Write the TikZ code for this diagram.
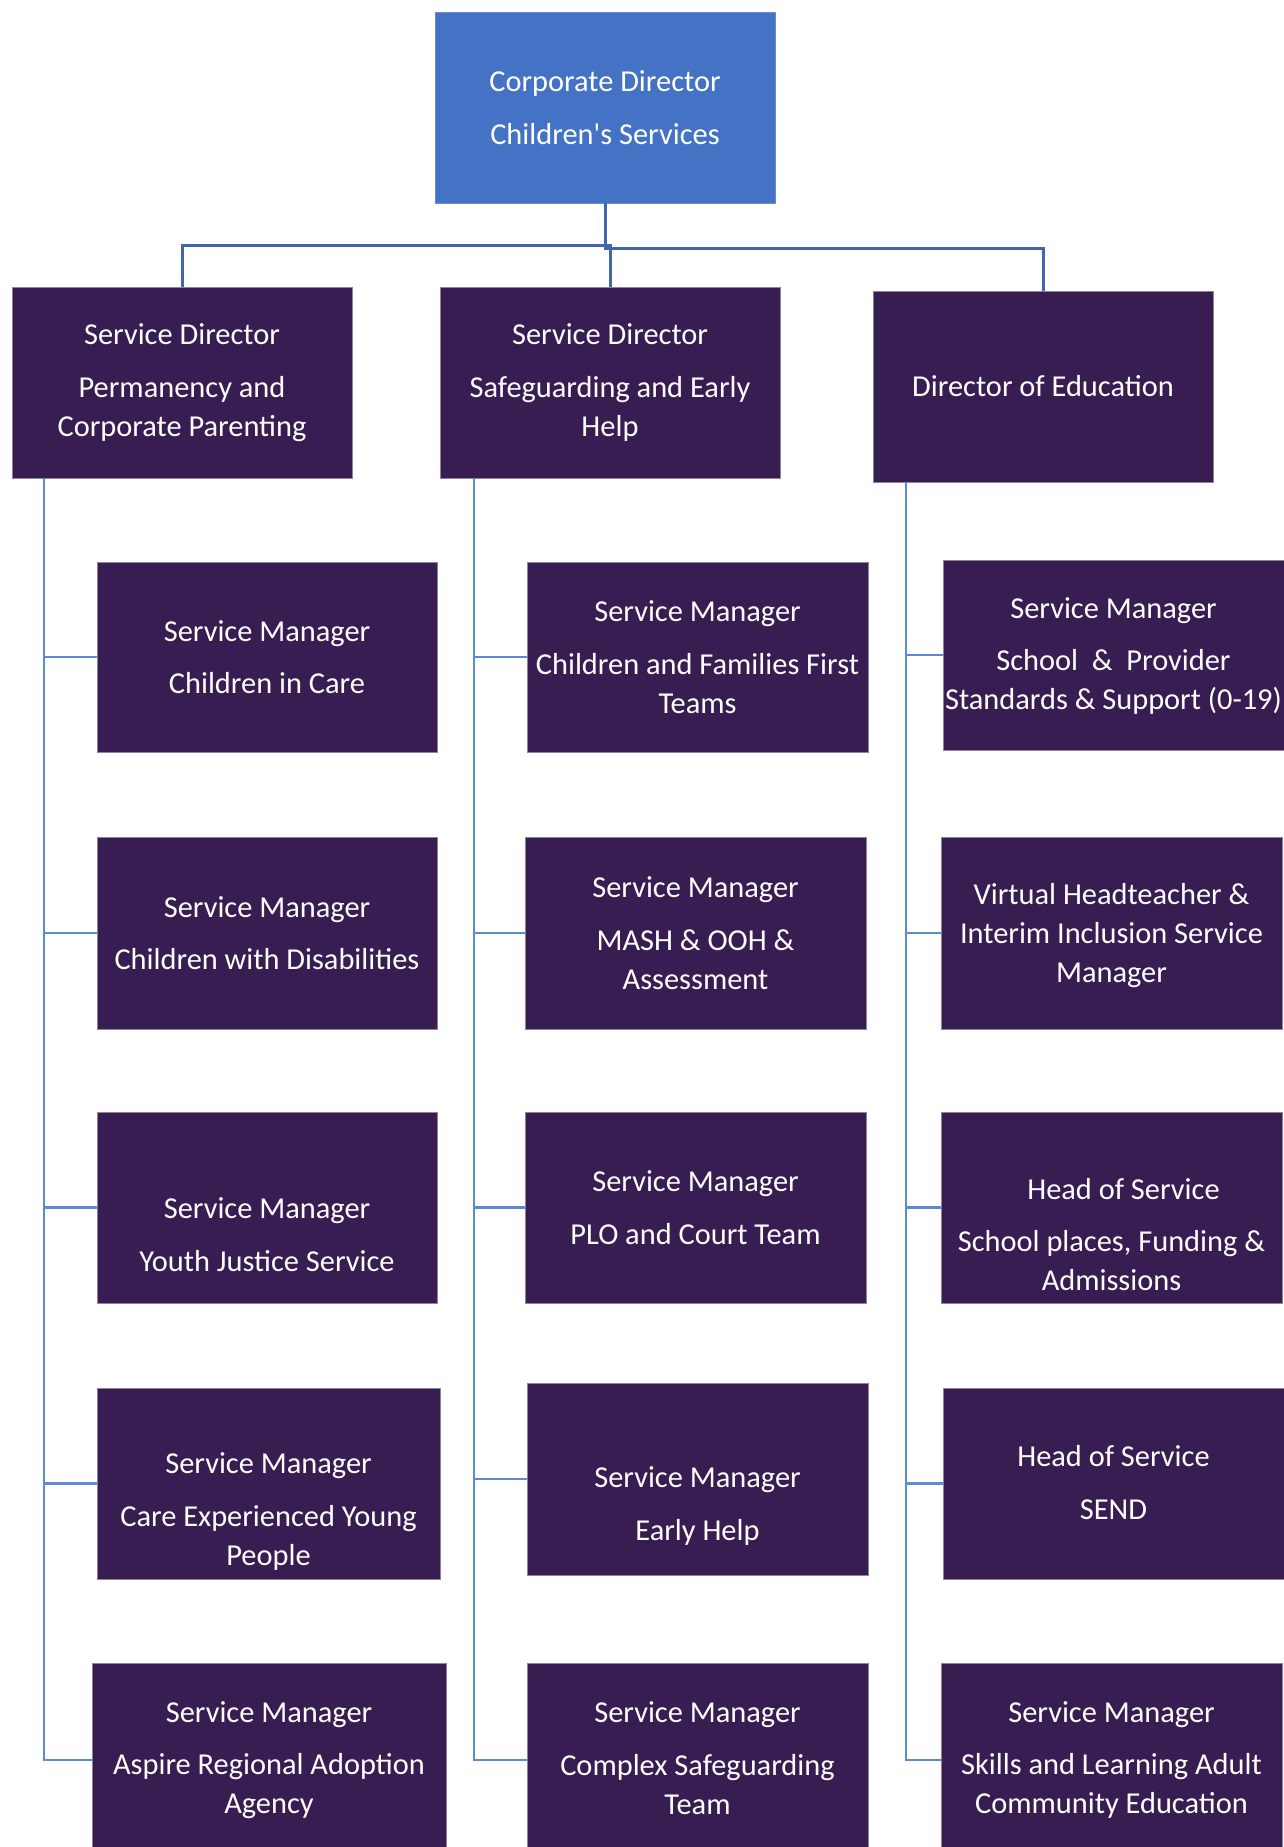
\documentclass[tikz,border=0pt]{standalone}
\usepackage{fontspec}
\setmainfont{Carlito}
\definecolor{topblue}{HTML}{4472C4}
\definecolor{deeppurple}{HTML}{371D51}
\definecolor{edgegray}{HTML}{8E84A0}
\definecolor{topline}{HTML}{4266AC}
\definecolor{subline}{HTML}{5E8AD2}
\tikzset{
  dbox/.style={fill=deeppurple, draw=edgegray, line width=0.5pt, inner sep=0pt, outer sep=0pt},
  bbox/.style={dbox, fill=topblue, draw=topblue!80!white},
  txt/.style={text=white, align=center, inner sep=0pt, font=\fontsize{15.2}{19.5}\selectfont},
  topconn/.style={draw=topline, line width=1.5pt},
  subconn/.style={draw=subline, line width=1.1pt},
}
% [style]{name}{x1}{y1}{x2}{y2}{text shift down, px}{text}
\newcommand{\orgbox}[8][dbox]{%
  \node[#1, minimum width={(#5-#3)*0.5pt}, minimum height={(#6-#4)*0.5pt}] (#2) at ({(#3+#5)/2},{(#4+#6)/2}) {};
  \node[txt] (#2t) at ([yshift={-(#7)*0.5pt}]#2.center) {#8};}
\newcommand{\gap}{\\[6.85pt]}
\begin{document}
\begin{tikzpicture}[x=0.5pt,y=-0.5pt]
\useasboundingbox (0,0) rectangle (1284,1847);
\clip (0,0) rectangle (1284,1847);
\fill[white] (0,0) rectangle (1284,1847);

% top
\orgbox[bbox]{top}{435}{12}{775}{203}{0}{Corporate Director\gap Children\textquotesingle s Services}

% level 2
\orgbox{pl}{12}{287}{352}{478}{0}{Service Director\gap Permanency and\\Corporate Parenting}
\orgbox{pm}{440}{287}{780}{478}{0}{Service Director\gap Safeguarding and Early\\Help}
\orgbox{pr}{873}{291}{1213}{482}{0}{Director of Education}

% left column
\orgbox{l1}{97}{562}{437}{752}{0}{Service Manager\gap Children in Care}
\orgbox{l2}{97}{837}{437}{1029}{0}{Service Manager\gap Children with Disabilities}
\orgbox{l3}{97}{1112}{437}{1303}{27}{Service Manager\gap Youth Justice Service}
\orgbox{l4}{97}{1388}{440}{1579}{28}{Service Manager\gap Care Experienced Young\\People}
\orgbox{l5}{92}{1663}{446}{1857}{0}{Service Manager\gap Aspire Regional Adoption\\Agency}

% middle column
\orgbox{m1}{527}{562}{868}{752}{0}{Service Manager\gap Children and Families First\\Teams}
\orgbox{m2}{525}{837}{866}{1029}{0}{Service Manager\gap MASH \& OOH \&\\Assessment}
\orgbox{m3}{525}{1112}{866}{1303}{0}{Service Manager\gap PLO and Court Team}
\orgbox{m4}{527}{1383}{868}{1575}{27}{Service Manager\gap Early Help}
\orgbox{m5}{527}{1663}{868}{1857}{-2}{Service Manager\gap Complex Safeguarding\\Team}

% right column
\orgbox{r1}{943}{560}{1284}{750}{1}{Service Manager\gap School\ \ \&\ \ Provider\\Standards \& Support (0-19)}
\orgbox{r2}{941}{837}{1282}{1029}{3}{Virtual Headteacher \&\\Interim Inclusion Service\\Manager}
\orgbox{r3}{941}{1112}{1282}{1303}{27}{\hspace*{12pt}Head of Service\gap School places, Funding \&\\Admissions}
\orgbox{r4}{943}{1388}{1284}{1579}{-1}{Head of Service\gap SEND}
\orgbox{r5}{941}{1663}{1282}{1857}{0}{Service Manager\gap Skills and Learning Adult\\Community Education}

% top connectors
\draw[topconn] (top.south) -- ++(0,42) -| (pl.north);
\draw[topconn] (top.south) -- ++(0,42) -| (pm.north);
\draw[topconn] (top.south) -- ++(0,45) -| (pr.north);

% trunks
\coordinate (tL) at ([xshift=16pt]pl.south west);
\coordinate (tM) at ([xshift=17pt]pm.south west);
\coordinate (tR) at ([xshift=16.5pt]pr.south west);
\foreach \c in {l1,l2,l3,l4,l5} { \draw[subconn] (tL) |- (\c.west); }
\foreach \c in {m1,m2,m3,m4,m5} { \draw[subconn] (tM) |- (\c.west); }
\foreach \c in {r1,r2,r3,r4,r5} { \draw[subconn] (tR) |- (\c.west); }
\end{tikzpicture}
\end{document}
